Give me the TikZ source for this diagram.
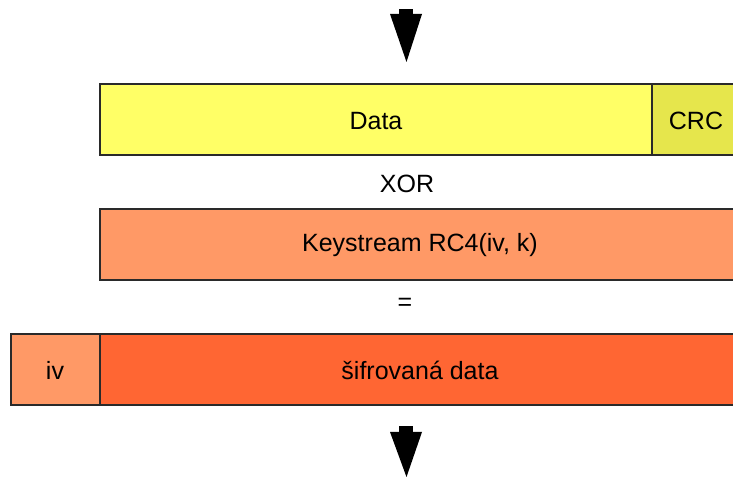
\documentclass[tikz,border=0pt]{standalone}
\usepackage{fontspec}
\setmainfont{Liberation Sans}
\definecolor{dyellow}{HTML}{FFFF66}
\definecolor{dcrc}{HTML}{E6E64C}
\definecolor{dkey}{HTML}{FF9966}
\definecolor{denc}{HTML}{FF6633}
\definecolor{dline}{HTML}{2A2A2A}
\begin{document}
\begin{tikzpicture}[x=0.75pt,y=-0.75pt,
  field/.style={draw=dline,line width=0.9pt},
  lbl/.style={font=\fontsize{18.75}{22}\selectfont,inner sep=0pt,anchor=center},
  blockarrow/.style={fill=black,draw=none}]
\useasboundingbox (0,0) rectangle (733,477);
% top arrow
\fill[blockarrow] (399,9) rectangle (413,15);
\fill[blockarrow] (390,14) -- (422,14) -- (406.5,62) -- cycle;
% data row
\draw[field,fill=dyellow] (100,84) rectangle (652,155);
\draw[field,fill=dcrc] (652,84) rectangle (745,155);
\node[lbl] (data) at (376,121) {Data};
\node[lbl] (crc) at (696,121) {CRC};
\node[lbl] (xor) at (407,184) {XOR};
% keystream row
\draw[field,fill=dkey] (100,209) rectangle (745,280);
\node[lbl] (ks) at (420,245) {Keystream RC4(iv, k)};
\node[lbl] (eq) at (405,304) {=};
% encrypted row
\draw[field,fill=dkey] (11,334) rectangle (100,405);
\draw[field,fill=denc] (100,334) rectangle (745,405);
\node[lbl] (iv) at (55,370) {iv};
\node[lbl] (enc) at (420,370) {šifrovaná data};
% bottom arrow
\fill[blockarrow] (399,426) rectangle (413,433);
\fill[blockarrow] (390,432) -- (422,432) -- (406.5,477) -- cycle;
\end{tikzpicture}
\end{document}
